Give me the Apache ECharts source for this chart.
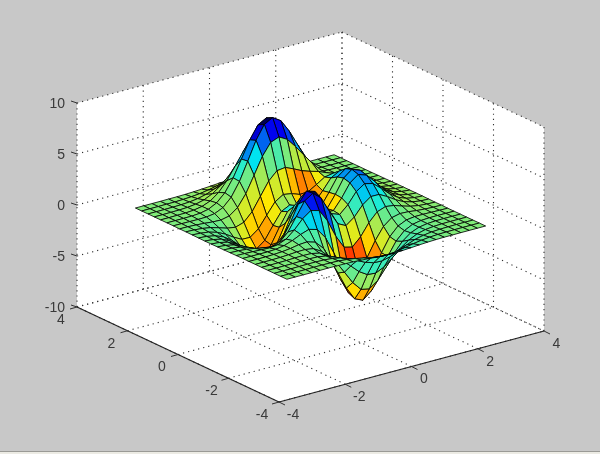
<!DOCTYPE html>
<html><head><meta charset="utf-8">
<style>html,body{margin:0;padding:0;background:#c8c8c8}#c{width:600px;height:454px}</style>
<script src="https://cdn.jsdelivr.net/npm/echarts@6/dist/echarts.min.js"></script>
</head><body><div id="c"></div>
<script>
const xValues=[-3,-2.75,-2.5,-2.25,-2,-1.75,-1.5,-1.25,-1,-.75,-.5,-.25,0,.25,.5,.75,1,1.25,1.5,1.75,2,2.25,2.5,2.75,3];
const yValues=xValues.slice();
const xTicks=[-4,-2,0,2,4];
const yTicks=[-4,-2,0,2,4];
const zTicks=[-10,-5,0,5,10];
const z00=[0,0,0,0,0,.01,0,-.01,-.03,-.08,-.14,-.2,-.25,-.25,-.22,-.17,-.11,-.06,-.03,-.01,-.01,0,0,0,0];
const z01=[0,0,0,0,.01,.01,0,-.02,-.1,-.22,-.39,-.56,-.68,-.69,-.61,-.46,-.3,-.17,-.08,-.03,-.01,0,0,0,0];
const z02=[0,0,0,.01,.02,.02,0,-.07,-.23,-.53,-.92,-1.31,-1.57,-1.61,-1.41,-1.06,-.69,-.38,-.19,-.08,-.03,-.01,0,0,0];
const z03=[0,0,.01,.01,.03,.04,.01,-.12,-.44,-1,-1.74,-2.51,-3.02,-3.1,-2.72,-2.05,-1.32,-.74,-.35,-.14,-.05,-.01,0,0,0];
const z04=[0,0,.01,.02,.05,.07,.05,-.13,-.59,-1.45,-2.64,-3.88,-4.76,-4.93,-4.35,-3.27,-2.1,-1.15,-.53,-.2,-.06,-.01,0,0,0];
const z05=[0,0,.01,.03,.07,.13,.15,.02,-.46,-1.48,-3.01,-4.7,-5.98,-6.33,-5.64,-4.24,-2.69,-1.42,-.61,-.2,-.05,0,.01,0,0];
const z06=[0,0,.01,.03,.08,.18,.33,.39,.15,-.68,-2.19,-4.08,-5.68,-6.33,-5.76,-4.32,-2.64,-1.27,-.44,-.07,.04,.05,.03,.01,0];
const z07=[0,-.01,-.01,-.01,.03,.17,.45,.83,1.11,.88,-.14,-1.85,-3.61,-4.6,-4.4,-3.22,-1.74,-.56,.08,.27,.23,.13,.06,.02,.01];
const z08=[-.01,-.03,-.06,-.1,-.13,-.04,.3,.98,1.86,2.45,2.23,1,-.72,-2.02,-2.22,-1.43,-.27,.58,.88,.77,.5,.26,.11,.04,.01];
const z09=[-.02,-.05,-.12,-.25,-.42,-.51,-.28,.49,1.78,3.09,3.63,2.94,1.4,0,-.41,.21,1.18,1.79,1.78,1.35,.82,.41,.18,.06,.02];
const z10=[-.03,-.08,-.2,-.44,-.8,-1.16,-1.21,-.6,.8,2.49,3.55,3.31,2,.7,.39,1.14,2.2,2.76,2.56,1.88,1.12,.56,.24,.09,.03];
const z11=[-.03,-.1,-.27,-.6,-1.14,-1.78,-2.16,-1.84,-.56,1.23,2.56,2.63,1.58,.53,.48,1.5,2.76,3.37,3.09,2.25,1.34,.67,.28,.1,.03];
const z12=[-.04,-.11,-.3,-.69,-1.33,-2.14,-2.77,-2.71,-1.65,.06,1.48,1.75,.98,.19,.38,1.57,2.94,3.58,3.27,2.37,1.41,.7,.3,.11,.03];
const z13=[-.04,-.11,-.29,-.67,-1.32,-2.16,-2.87,-2.98,-2.15,-.65,.68,1.06,.52,-.03,.28,1.47,2.76,3.36,3.06,2.22,1.32,.65,.28,.1,.03];
const z14=[-.03,-.09,-.25,-.57,-1.12,-1.85,-2.49,-2.64,-2,-.76,.39,.8,.46,.09,.38,1.34,2.38,2.83,2.56,1.85,1.09,.54,.23,.08,.03];
const z15=[-.02,-.07,-.18,-.42,-.81,-1.33,-1.76,-1.78,-1.16,-.05,1.04,1.55,1.42,1.12,1.17,1.65,2.17,2.32,1.99,1.4,.82,.4,.17,.06,.02];
const z16=[-.01,-.04,-.11,-.25,-.48,-.74,-.86,-.6,.23,1.51,2.79,3.59,3.69,3.34,2.94,2.66,2.43,2.09,1.58,1.04,.58,.28,.11,.04,.01];
const z17=[-.01,-.02,-.06,-.12,-.2,-.23,-.05,.55,1.69,3.29,4.92,6.07,6.39,5.94,5.02,3.97,2.97,2.09,1.35,.79,.41,.19,.07,.03,.01];
const z18=[0,-.01,-.02,-.03,-.01,.11,.48,1.28,2.61,4.38,6.2,7.54,8,7.48,6.25,4.72,3.26,2.05,1.19,.62,.29,.12,.05,.02,0];
const z19=[0,0,0,.01,.07,.24,.65,1.43,2.67,4.29,5.96,7.22,7.68,7.2,5.99,4.45,2.96,1.78,.96,.47,.21,.08,.03,.01,0];
const z20=[0,0,.01,.02,.08,.23,.55,1.16,2.1,3.31,4.56,5.51,5.86,5.5,4.57,3.37,2.21,1.29,.68,.32,.13,.05,.02,.01,0];
const z21=[0,0,.01,.02,.06,.16,.36,.74,1.32,2.07,2.84,3.43,3.65,3.43,2.84,2.09,1.36,.79,.41,.19,.08,.03,.01,0,0];
const z22=[0,0,0,.01,.03,.08,.19,.39,.69,1.07,1.47,1.77,1.89,1.77,1.47,1.08,.7,.4,.21,.09,.04,.01,0,0,0];
const z23=[0,0,0,.01,.01,.04,.09,.17,.3,.47,.64,.77,.82,.77,.64,.47,.3,.17,.09,.04,.02,.01,0,0,0];
const z24=[0,0,0,0,.01,.01,.03,.06,.11,.17,.23,.28,.3,.28,.23,.17,.11,.06,.03,.01,.01,0,0,0,0];
const zRows=[z00,z01,z02,z03,z04,z05,z06,z07,z08,z09,z10,z11,z12,z13,z14,z15,z16,z17,z18,z19,z20,z21,z22,z23,z24];

const ny=zRows.length,nx=xValues.length;
function P(x,y,z){return [279+(x+4)/8*265-(y+4)/8*202,402-(x+4)/8*71-(y+4)/8*95-(z+10)/20*204];}
const at=(j,i)=>zRows[Math.max(0,Math.min(ny-1,j))][Math.max(0,Math.min(nx-1,i))];
const curv=zRows.map((r,j)=>r.map((v,i)=>(at(j+1,i)+at(j-1,i)+at(j,i+1)+at(j,i-1)-4*v)/4));
const all=curv.flat();const cmin=Math.min(...all),cmax=Math.max(...all);
function jet(t){const c=(v,k)=>Math.round(k*Math.max(0,Math.min(1,v)));
  return `rgb(${c(1.5-Math.abs(4*t-3),255)},${c(1.5-Math.abs(4*t-2),235)},${c(1.5-Math.abs(4*t-1),240)})`;}
function colorOf(v){return jet(.5+.5*(v>=0?v/(cmax*1.1):v/(-cmin*.85)));}

const cells=[];
for(let j=ny-2;j>=0;j--)for(let i=nx-2;i>=0;i--)cells.push([i,j]);

const dotted=[];
xTicks.forEach(x=>{dotted.push([x,4,-10,x,4,10]);dotted.push([x,-4,-10,x,4,-10]);});
yTicks.forEach(y=>{dotted.push([4,y,-10,4,y,10]);dotted.push([-4,y,-10,4,y,-10]);});
zTicks.forEach(z=>{dotted.push([-4,4,z,4,4,z]);dotted.push([4,4,z,4,-4,z]);});
const solid=[[-4,4,-10,-4,-4,-10],[-4,-4,-10,4,-4,-10]];
const ticks=[];
xTicks.forEach(x=>ticks.push([x,-4,-10,6,3]));
yTicks.forEach(y=>ticks.push([-4,y,-10,-7,2]));
zTicks.forEach(z=>ticks.push([-4,4,z,-6,-2]));
const labels=[];
xTicks.forEach(x=>labels.push([x,-4,-10,String(x),x<0?14:12.5,13,'center']));
yTicks.forEach(y=>labels.push([-4,y,-10,String(y),y<0?-17:-16,13,'center']));
zTicks.forEach(z=>labels.push([-4,4,z,String(z),-12,1,'right']));

const lineItem=(api,d,style)=>{const a=api.coord(P(d[0],d[1],d[2])),b=api.coord(P(d[3],d[4],d[5]));
  return {type:'line',shape:{x1:a[0],y1:a[1],x2:b[0],y2:b[1]},style};};

const chart=echarts.init(document.getElementById('c'),null,{renderer:'canvas'});
chart.setOption({
  animation:false,
  backgroundColor:'#c8c8c8',
  grid:{left:0,right:0,top:0,bottom:0},
  xAxis:{type:'value',min:0,max:600,show:false},
  yAxis:{type:'value',min:0,max:454,inverse:true,show:false},
  graphic:[
    {type:'rect',shape:{x:0,y:452,width:600,height:2},style:{fill:'#ecebe4'},silent:true},
    {type:'line',shape:{x1:0,y1:451.5,x2:600,y2:451.5},style:{stroke:'#9a9a96',lineWidth:1},silent:true}
  ],
  series:[
    {type:'custom',coordinateSystem:'cartesian2d',silent:true,clip:false,z:1,data:[[0,0]],
     renderItem:(p,api)=>{
       const pts=[[-4,4,10],[4,4,10],[4,-4,10],[4,-4,-10],[-4,-4,-10],[-4,4,-10]].map(c=>api.coord(P(c[0],c[1],c[2])));
       return {type:'polygon',shape:{points:pts},style:{fill:'#fff'}};
     }},
    {type:'custom',coordinateSystem:'cartesian2d',silent:true,clip:false,z:2,data:dotted,
     renderItem:(p,api)=>lineItem(api,dotted[p.dataIndex],{stroke:'#333',lineWidth:1.1,lineDash:[1.2,4]})},
    {type:'custom',coordinateSystem:'cartesian2d',silent:true,clip:false,z:3,data:solid,
     renderItem:(p,api)=>lineItem(api,solid[p.dataIndex],{stroke:'#222',lineWidth:1.2})},
    {type:'custom',coordinateSystem:'cartesian2d',silent:true,clip:false,z:3,data:ticks,
     renderItem:(p,api)=>{const d=ticks[p.dataIndex],a=api.coord(P(d[0],d[1],d[2]));
       return {type:'line',shape:{x1:a[0],y1:a[1],x2:a[0]+d[3],y2:a[1]+d[4]},style:{stroke:'#333',lineWidth:1}};}},
    {type:'custom',coordinateSystem:'cartesian2d',silent:true,clip:false,z:4,data:labels,
     renderItem:(p,api)=>{const d=labels[p.dataIndex],a=api.coord(P(d[0],d[1],d[2]));
       return {type:'text',x:a[0]+d[4],y:a[1]+d[5],style:{text:d[3],fill:'#3a3a3a',font:'14px "Liberation Sans"',align:d[6],verticalAlign:'middle'}};}},
    {type:'custom',coordinateSystem:'cartesian2d',silent:true,clip:false,z:5,data:cells,
     renderItem:(p,api)=>{const [i,j]=cells[p.dataIndex];
       const q=(jj,ii)=>api.coord(P(xValues[ii],yValues[jj],zRows[jj][ii]));
       return {type:'polygon',shape:{points:[q(j,i),q(j,i+1),q(j+1,i+1),q(j+1,i)]},
         style:{fill:colorOf(curv[j][i]),stroke:'rgba(0,0,0,0.9)',lineWidth:0.9}};}}
  ]
});
</script></body></html>
